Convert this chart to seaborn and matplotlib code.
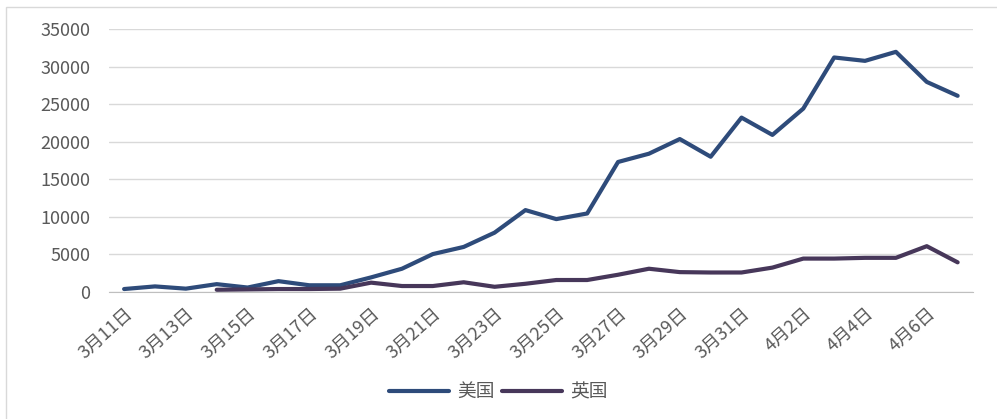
import pandas as pd
import numpy as np
import seaborn as sns
import matplotlib.pyplot as plt
from matplotlib.patches import Rectangle
from matplotlib.transforms import ScaledTranslation

dates = ['3月11日', '3月12日', '3月13日', '3月14日', '3月15日', '3月16日', '3月17日',
         '3月18日', '3月19日', '3月20日', '3月21日', '3月22日', '3月23日', '3月24日',
         '3月25日', '3月26日', '3月27日', '3月28日', '3月29日', '3月30日', '3月31日',
         '4月1日', '4月2日', '4月3日', '4月4日', '4月5日', '4月6日', '4月7日']
usa = [400, 750, 450, 1050, 600, 1450, 900, 900, 1950, 3100,
       5050, 6000, 7900, 10900, 9700, 10450, 17300, 18400, 20350, 18000,
       23200, 20900, 24400, 31200, 30750, 31950, 27950, 26100]
uk = [np.nan, np.nan, np.nan, 300, 350, 400, 400, 450, 1250, 800,
      800, 1300, 700, 1100, 1600, 1600, 2300, 3100, 2650, 2600,
      2600, 3250, 4450, 4450, 4550, 4550, 6100, 3950]

df = pd.DataFrame({'day': list(range(len(dates))) * 2,
                   'value': usa + uk,
                   'country': ['美国'] * len(dates) + ['英国'] * len(dates)})

sns.set_style('white')
plt.rcParams['font.family'] = ['Noto Sans CJK SC', 'DejaVu Sans']

fig = plt.figure(figsize=(9.97, 4.19), dpi=100)
ax = fig.add_axes([0.109, 0.303, 0.867, 0.628])

ax = sns.lineplot(data=df, x='day', y='value', hue='country',
                  palette={'美国': '#2E4B7A', '英国': '#47375A'},
                  linewidth=3, ax=ax)

ax.set_xlim(-0.5, len(dates) - 0.5)
ax.set_ylim(0, 35000)
ax.set_yticks(range(0, 35001, 5000))
ax.yaxis.grid(True, color='#D9D9D9', linewidth=1)
ax.set_axisbelow(True)
for s in ['left', 'right', 'top']:
    ax.spines[s].set_visible(False)
ax.spines['bottom'].set_color('#BFBFBF')

# category ticks between every second day, labels on the day itself
ax.set_xticks(np.arange(-0.5, len(dates), 2), minor=True)
ax.set_xticks(range(0, len(dates), 2))
ax.set_xticklabels(dates[::2], rotation=42, ha='right', va='top',
                   rotation_mode='anchor')
shift = ScaledTranslation(8 / 100, 0, fig.dpi_scale_trans)
for lab in ax.get_xticklabels():
    lab.set_transform(lab.get_transform() + shift)
ax.tick_params(axis='x', which='major', length=0, pad=9, labelsize=13,
               labelcolor='#595959')
ax.tick_params(axis='x', which='minor', length=5, color='#BFBFBF', direction='out')
ax.tick_params(axis='y', length=0, labelsize=13, labelcolor='#595959', pad=13)
ax.set_xlabel('')
ax.set_ylabel('')

leg = ax.legend(loc='lower center', bbox_to_anchor=(0.5, 0.0),
                bbox_transform=fig.transFigure, ncol=2, frameon=False,
                handlelength=3.2, handletextpad=0.45, columnspacing=0.35,
                prop={'size': 13.5})
for t in leg.get_texts():
    t.set_color('#595959')

fig.patches.append(Rectangle((6 / 997, -0.1), 1.2, 1.1 - 7 / 419,
                             transform=fig.transFigure, fill=False,
                             edgecolor='#D9D9D9', linewidth=1))

fig.savefig('out.png', dpi=100)
